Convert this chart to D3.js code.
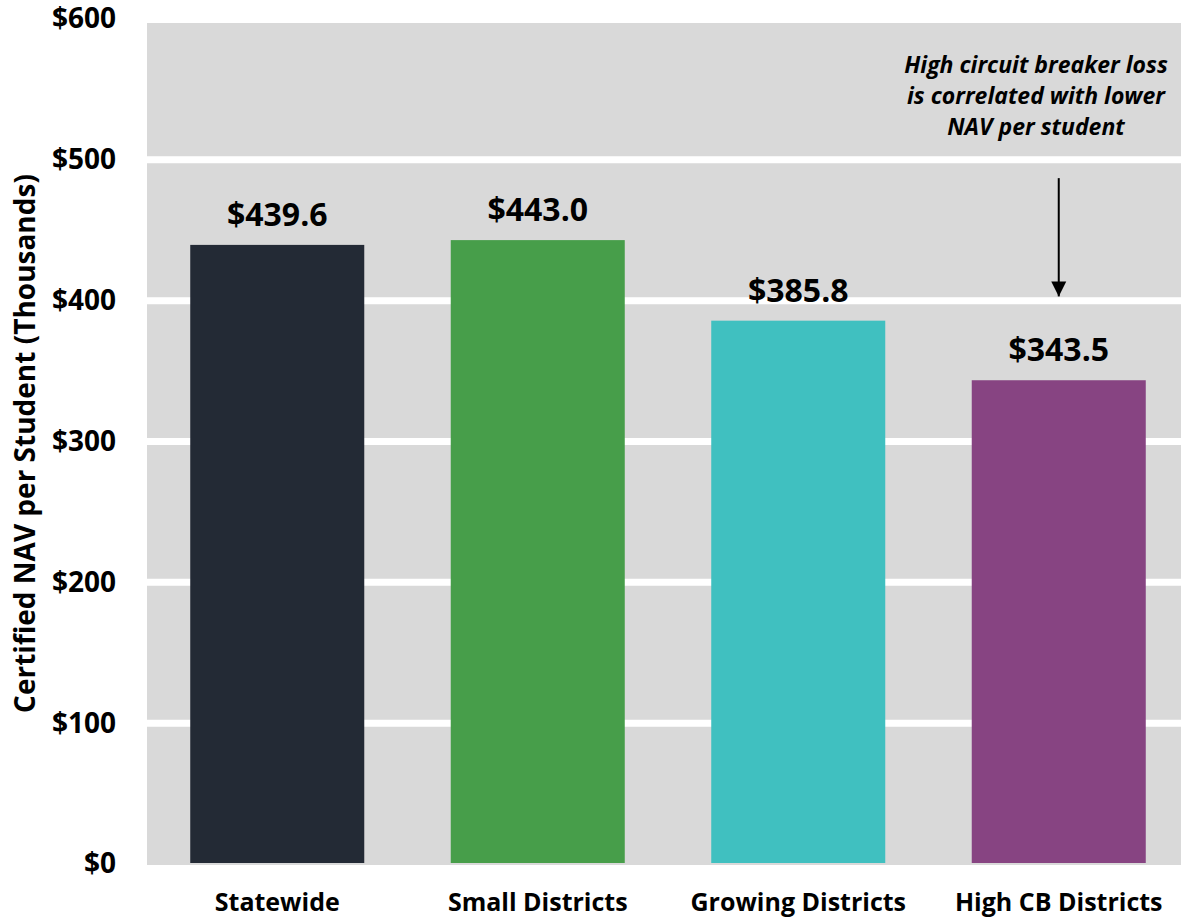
<!DOCTYPE html>
<html>
<head>
<meta charset="utf-8">
<script src="https://cdn.jsdelivr.net/npm/d3@7"></script>
<style>
  body { margin: 0; background: #fff; }
  svg text { font-family: "Open Sans", "Noto Sans", sans-serif; font-weight: 700; fill: #000; }
</style>
</head>
<body>
<svg id="chart" width="1181" height="918"></svg>
<script>
// data
const categories = ["Statewide", "Small Districts", "Growing Districts", "High CB Districts"];
const values = [439.6, 443.0, 385.8, 343.5];
const barColors = ["#232a35", "#479e4a", "#40c0c0", "#874482"];
const yTicks = [0, 100, 200, 300, 400, 500, 600];
const noteLines = ["High circuit breaker loss", "is correlated with lower", "NAV per student"];
const arrowFromTo = [487, 403]; // arrow runs between these values, over the last bar

const svg = d3.select("#chart");
const margin = { top: 19, right: 0, bottom: 54, left: 147 };
const plotRight = 1189; // plot area runs slightly past the window edge

let x = d3.scaleBand()
  .domain(categories)
  .range([margin.left, plotRight])
  .paddingInner(0.332)
  .paddingOuter(0.166);

let y = d3.scaleLinear()
  .domain([0, 600])
  .range([864, margin.top]);

// grey panel
svg.append("rect")
  .attr("x", margin.left)
  .attr("y", y(600) + 4)
  .attr("width", plotRight - margin.left)
  .attr("height", y(0) - y(600) - 3)
  .attr("fill", "#d9d9d9");

// white gridlines
svg.append("g")
  .selectAll("line")
  .data(yTicks.filter(d => d > 0 && d < 600))
  .enter().append("line")
  .attr("x1", margin.left)
  .attr("x2", plotRight)
  .attr("y1", d => y(d))
  .attr("y2", d => y(d))
  .attr("stroke", "#fff")
  .attr("stroke-width", 7);

// bars
svg.append("g")
  .selectAll("rect")
  .data(values)
  .enter().append("rect")
  .attr("x", (d, i) => x(categories[i]))
  .attr("width", x.bandwidth())
  .attr("y", d => y(d))
  .attr("height", d => y(0) - 1 - y(d))
  .attr("fill", (d, i) => barColors[i]);

// value labels
svg.append("g")
  .selectAll("text")
  .data(values)
  .enter().append("text")
  .attr("x", (d, i) => x(categories[i]) + x.bandwidth() / 2)
  .attr("y", d => y(d) - 19)
  .attr("text-anchor", "middle")
  .style("font-size", "32px")
  .text(d => "$" + d3.format(".1f")(d));

// y axis
let yAxis = svg.append("g")
  .attr("transform", `translate(${margin.left}, 0)`)
  .call(d3.axisLeft(y).tickValues(yTicks).tickFormat(d => "$" + d).tickSize(0).tickPadding(31));
yAxis.select(".domain").remove();
yAxis.selectAll("text")
  .style("font-size", "28px")
  .attr("font-family", null);

// x axis
let xAxis = svg.append("g")
  .attr("transform", `translate(0, ${y(0)})`)
  .call(d3.axisBottom(x).tickSize(0).tickPadding(29));
xAxis.select(".domain").remove();
xAxis.selectAll("text")
  .style("font-size", "25px")
  .attr("font-family", null);

// y axis title
svg.append("text")
  .attr("transform", `translate(35, ${(y(0) + y(600)) / 2 + 2}) rotate(-90)`)
  .attr("text-anchor", "middle")
  .style("font-size", "28px")
  .text("Certified NAV per Student (Thousands)");

// annotation
const noteX = 1036;
svg.append("g")
  .selectAll("text")
  .data(noteLines)
  .enter().append("text")
  .attr("x", noteX)
  .attr("y", (d, i) => 73 + i * 31)
  .attr("text-anchor", "middle")
  .style("font-size", "23px")
  .style("font-style", "italic")
  .text(d => d);

const arrowX = x(categories[3]) + x.bandwidth() / 2;
svg.append("defs").append("marker")
  .attr("id", "head")
  .attr("viewBox", "0 0 10 10")
  .attr("refX", 10)
  .attr("refY", 5)
  .attr("markerUnits", "userSpaceOnUse")
  .attr("markerWidth", 15)
  .attr("markerHeight", 16)
  .attr("orient", "auto")
  .append("path")
  .attr("d", "M0,0L10,5L0,10Z")
  .attr("fill", "#000");

svg.append("line")
  .attr("x1", arrowX)
  .attr("x2", arrowX)
  .attr("y1", y(arrowFromTo[0]))
  .attr("y2", y(arrowFromTo[1]))
  .attr("stroke", "#000")
  .attr("stroke-width", 2)
  .attr("marker-end", "url(#head)");
</script>
</body>
</html>
